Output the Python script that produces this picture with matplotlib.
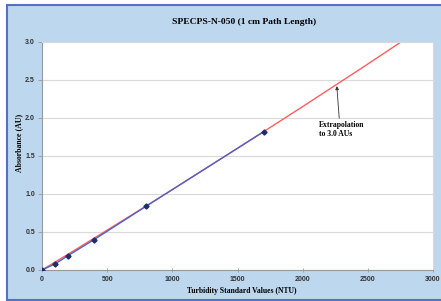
import matplotlib
matplotlib.use("Agg")
import matplotlib.pyplot as plt
from matplotlib.patches import Rectangle

# measured standards (NTU vs AU)
ntu = [0, 100, 200, 400, 800, 1700]
absorbance = [0.0, 0.08, 0.19, 0.40, 0.84, 1.82]

# trend line, extended to 3.0 AU
trend_x = [0, 250, 500, 750, 1000, 1250, 1500, 1750, 2000, 2250, 2500, 2754]
trend_y = [0.0, 0.26, 0.525, 0.79, 1.058, 1.33, 1.60, 1.875, 2.15, 2.43, 2.71, 3.0]

title = "SPECPS-N-050 (1 cm Path Length)"
xlabel = "Turbidity Standard Values (NTU)"
ylabel = "Absorbance (AU)"
note = "Extrapolation\nto 3.0 AUs"

serif = "Liberation Serif"
sans = "Liberation Sans"

fig = plt.figure(figsize=(4.41, 3.01), dpi=100)
fig.patch.set_facecolor("white")

# light blue chart area with blue frame
bg = Rectangle((7 / 441, 1.5 / 301), 1.0, 294.5 / 301, transform=fig.transFigure,
               facecolor="#BDD7EE", edgecolor="#5470C4", linewidth=1.5, zorder=-1)
fig.patches.append(bg)

ax = fig.add_axes([42 / 441, 1 - 270 / 301, 391 / 441, 228 / 301])
ax.set_zorder(1)
ax.set_facecolor("white")

ax.plot(trend_x, trend_y, color="#FF5F5F", linewidth=1.0, zorder=2)
ax.plot(ntu, absorbance, color="#4A64C8", linewidth=1.0, marker="D",
        markersize=2.6, markerfacecolor="#1F2D6B", markeredgecolor="#1F2D6B", zorder=3)

ax.set_xlim(0, 3000)
ax.set_ylim(0, 3.0)
ax.set_xticks([0, 500, 1000, 1500, 2000, 2500, 3000])
ax.set_yticks([0.0, 0.5, 1.0, 1.5, 2.0, 2.5, 3.0])
ax.set_yticklabels(["%.1f" % v for v in ax.get_yticks()])
ax.yaxis.grid(True, color="#D9D9D9", linewidth=0.8)
ax.set_axisbelow(True)

for lab in ax.get_xticklabels() + ax.get_yticklabels():
    lab.set_fontfamily(sans)
    lab.set_fontweight("bold")
    lab.set_fontsize(5)
    lab.set_color("#333333")
ax.tick_params(axis="both", length=3, width=0.6, color="#999999", pad=2)
ax.tick_params(axis="x", direction="inout", pad=3)

for side in ["left", "bottom"]:
    ax.spines[side].set_color("#999999")
    ax.spines[side].set_linewidth(0.8)
for side in ["top", "right"]:
    ax.spines[side].set_color("#D9D9D9")
    ax.spines[side].set_linewidth(0.8)

fig.text(244 / 441, 1 - 22 / 301, title, ha="center", va="center",
         fontfamily=serif, fontweight="bold", fontsize=6.8)
fig.text(242 / 441, 1 - 291 / 301, xlabel, ha="center", va="center",
         fontfamily=serif, fontweight="bold", fontsize=5.5)
fig.text(19 / 441, 1 - 143 / 301, ylabel, ha="center", va="center", rotation=90,
         fontfamily=serif, fontweight="bold", fontsize=5.6)

ax.annotate(note, xy=(2262, 2.42), xytext=(2125, 1.96), ha="left", va="top",
            fontfamily=serif, fontweight="bold", fontsize=5.5,
            arrowprops=dict(arrowstyle="-|>", color="#333333", linewidth=0.6,
                            mutation_scale=5, shrinkA=0, shrinkB=0,
                            relpos=(0.45, 1.0)))

fig.savefig("out.png", dpi=100)
